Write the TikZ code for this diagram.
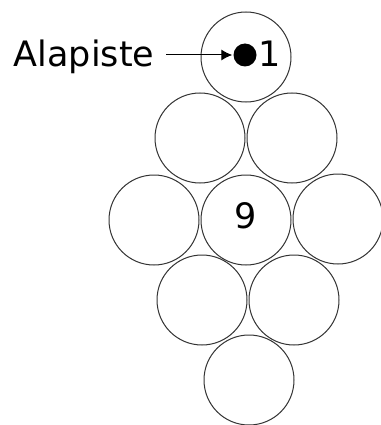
\documentclass[tikz,border=0pt]{standalone}
\usepackage{fontspec}
\setmainfont{DejaVu Sans}
\usetikzlibrary{arrows.meta}
\begin{document}
\begin{tikzpicture}[>={Latex[length=11pt,width=11pt]}, x=1pt, y=-1pt,
	ball/.style={circle, draw=black!80, line width=1pt, minimum size=90pt, inner sep=0pt},
	nr/.style={font=\fontsize{35}{35}\selectfont, inner sep=0pt}]

	\useasboundingbox (0,0) rectangle (380,425);
	\fill [white] (0,0) rectangle (380,425);

	\node [ball] (b1) at (246,57) {};
	\node [ball] (b2) at (200,138) {};
	\node [ball] (b3) at (292,138) {};
	\node [ball] (b4) at (154,220) {};
	\node [ball] (b5) at (246,220) {};
	\node [ball] (b6) at (338,219) {};
	\node [ball] (b7) at (202,300) {};
	\node [ball] (b8) at (294,300) {};
	\node [ball] (b9) at (249,380) {};

	\node [circle, fill, minimum size=23pt, inner sep=0pt] (dot) at (245,55) {};
	\node [nr, anchor=base] (n1) at (270,67) {1};
	\node [nr, anchor=base] (n9) at (246,228) {9};
	\node [nr, anchor=base] (lbl) at (84,67) {Alapiste};
	\draw [->, line width=1pt] ([xshift=12pt]lbl.east |- dot.west) -- ([xshift=-1pt]dot.west);

\end{tikzpicture}
\end{document}
